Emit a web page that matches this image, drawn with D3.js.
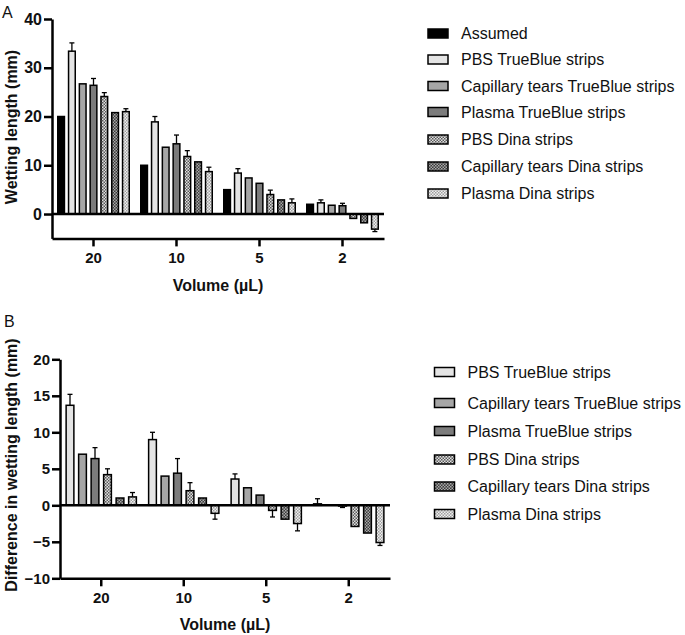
<!DOCTYPE html>
<html>
<head>
<meta charset="utf-8">
<script src="https://cdn.jsdelivr.net/npm/d3@7"></script>
<style>
  html, body { margin: 0; padding: 0; background: #fff; }
  svg { display: block; }
  text { font-family: "Liberation Sans", Arial, Helvetica, sans-serif; fill: #111; }
</style>
</head>
<body>
<svg id="chart" width="685" height="635"></svg>
<script>
// ---------- data ----------
const volumes = ["20", "10", "5", "2"];

const seriesA = ["Assumed", "PBS TrueBlue strips", "Capillary tears TrueBlue strips",
  "Plasma TrueBlue strips", "PBS Dina strips", "Capillary tears Dina strips", "Plasma Dina strips"];
const seriesB = seriesA.slice(1);

// Panel A: wetting length (mm), per volume 20,10,5,2
const assumed        = [20, 10, 5, 2];
const pbsTrueBlue    = [33.4, 18.9, 8.4, 2.3];
const capTrueBlue    = [26.7, 13.7, 7.4, 1.8];
const plasmaTrueBlue = [26.4, 14.4, 6.3, 1.7];
const pbsDina        = [24.1, 11.8, 4.0, -0.9];
const capDina        = [20.8, 10.7, 2.9, -1.8];
const plasmaDina     = [21.0, 8.7, 2.3, -3.1];
// error bars (SD) panel A
const errAssumed       = [0, 0, 0, 0];
const errPbsTrueBlue   = [1.7, 1.1, 0.9, 0.6];
const errCapTrueBlue   = [0, 0, 0, 0];
const errPlasmaTrueBlue= [1.4, 1.8, 0, 0.5];
const errPbsDina       = [0.8, 1.2, 0.9, 0];
const errCapDina       = [0, 0, 0, 0];
const errPlasmaDina    = [0.6, 0.9, 0.8, 0.5];

// Panel B: difference in wetting length (mm)
const dPbsTrueBlue    = [13.7, 9.0, 3.6, 0.2];
const dCapTrueBlue    = [7.0, 4.0, 2.4, 0.0];
const dPlasmaTrueBlue = [6.4, 4.4, 1.4, -0.1];
const dPbsDina        = [4.2, 2.0, -0.7, -2.9];
const dCapDina        = [1.0, 1.0, -1.9, -3.8];
const dPlasmaDina     = [1.15, -1.1, -2.5, -5.1];
const eDPbsTrueBlue   = [1.5, 1.0, 0.7, 0.7];
const eDCapTrueBlue   = [0, 0, 0, 0];
const eDPlasmaTrueBlue= [1.5, 2.0, 0, 0.2];
const eDPbsDina       = [0.8, 1.1, 0.9, 0];
const eDCapDina       = [0, 0, 0, 0];
const eDPlasmaDina    = [0.6, 0.8, 1.0, 0.4];

const ticksA = [0, 10, 20, 30, 40];
const ticksB = [-10, -5, 0, 5, 10, 15, 20];

// ---------- styling ----------
const fills = {
  "Assumed": "#000",
  "PBS TrueBlue strips": "#e4e4e4",
  "Capillary tears TrueBlue strips": "#a6a6a6",
  "Plasma TrueBlue strips": "#7c7c7c",
  "PBS Dina strips": "url(#patPbsDina)",
  "Capillary tears Dina strips": "url(#patCapDina)",
  "Plasma Dina strips": "url(#patPlasmaDina)"
};

const svg = d3.select("#chart");
svg.append("rect").attr("width", 685).attr("height", 635).attr("fill", "#fff");

const defs = svg.append("defs");
function checker(id, bg, fg, s) {
  const p = defs.append("pattern").attr("id", id).attr("patternUnits", "userSpaceOnUse")
    .attr("width", 2 * s).attr("height", 2 * s);
  p.append("rect").attr("width", 2 * s).attr("height", 2 * s).attr("fill", bg);
  p.append("rect").attr("width", s).attr("height", s).attr("fill", fg);
  p.append("rect").attr("x", s).attr("y", s).attr("width", s).attr("height", s).attr("fill", fg);
}
checker("patPbsDina", "#e0e0e0", "#5a5a5a", 1.5);
checker("patCapDina", "#3c3c3c", "#a8a8a8", 1.5);
checker("patPlasmaDina", "#f0f0f0", "#a0a0a0", 1.5);

const seriesDataA = [
  [assumed, errAssumed], [pbsTrueBlue, errPbsTrueBlue], [capTrueBlue, errCapTrueBlue],
  [plasmaTrueBlue, errPlasmaTrueBlue], [pbsDina, errPbsDina], [capDina, errCapDina],
  [plasmaDina, errPlasmaDina]
];
const seriesDataB = [
  [dPbsTrueBlue, eDPbsTrueBlue], [dCapTrueBlue, eDCapTrueBlue], [dPlasmaTrueBlue, eDPlasmaTrueBlue],
  [dPbsDina, eDPbsDina], [dCapDina, eDCapDina], [dPlasmaDina, eDPlasmaDina]
];

function panel(cfg) {
  const g = svg.append("g");
  const x0 = d3.scaleBand().domain(volumes).range(cfg.xRange).padding(0);
  const y = d3.scaleLinear().domain(cfg.yDomain).range(cfg.yRange);
  const n = cfg.series.length;
  const bw = x0.bandwidth();
  const x1 = d3.scaleBand().domain(cfg.series)
    .range([bw / 2 - n * cfg.pitch / 2, bw / 2 + n * cfg.pitch / 2])
    .paddingInner(cfg.pad).paddingOuter(cfg.pad / 2);

  const rows = [];
  cfg.series.forEach((s, si) => {
    volumes.forEach((v, vi) => {
      rows.push({ s, v, val: cfg.data[si][0][vi], err: cfg.data[si][1][vi] });
    });
  });

  // bars
  g.selectAll("rect.bar").data(rows).join("rect").attr("class", "bar")
    .attr("x", d => x0(d.v) + x1(d.s))
    .attr("width", x1.bandwidth())
    .attr("y", d => y(Math.max(0, d.val)))
    .attr("height", d => Math.abs(y(d.val) - y(0)))
    .attr("fill", d => fills[d.s])
    .attr("stroke", "#000").attr("stroke-width", 1.5);

  // error bars
  const eb = rows.filter(d => d.err > 0);
  const cx = d => x0(d.v) + x1(d.s) + x1.bandwidth() / 2;
  const tip = d => d.val >= 0 ? d.val + d.err : d.val - d.err;
  g.selectAll("line.err").data(eb).join("line").attr("class", "err")
    .attr("x1", cx).attr("x2", cx)
    .attr("y1", d => y(d.val)).attr("y2", d => y(tip(d)))
    .attr("stroke", "#000").attr("stroke-width", 1.3);
  g.selectAll("line.cap").data(eb).join("line").attr("class", "cap")
    .attr("x1", d => cx(d) - 2.5).attr("x2", d => cx(d) + 2.5)
    .attr("y1", d => y(tip(d))).attr("y2", d => y(tip(d)))
    .attr("stroke", "#000").attr("stroke-width", 1.3);

  // zero line
  g.append("line").attr("x1", cfg.xRange[0]).attr("x2", cfg.xRange[1])
    .attr("y1", y(0)).attr("y2", y(0)).attr("stroke", "#000").attr("stroke-width", 2.5);

  // y axis
  const ya = g.append("g").attr("transform", `translate(${cfg.xRange[0]},0)`)
    .call(d3.axisLeft(y).tickValues(cfg.ticks).tickSize(8).tickSizeOuter(0).tickPadding(2));
  ya.select(".domain").attr("stroke", "#000").attr("stroke-width", 2.5);
  ya.selectAll(".tick line").attr("stroke", "#000").attr("stroke-width", 2.5);
  ya.selectAll(".tick text").style("font-family", '"Liberation Sans", Arial, sans-serif')
    .style("font-size", cfg.yTickFont + "px").style("font-weight", "bold").attr("fill", "#111");

  // x axis
  const xa = g.append("g").attr("transform", `translate(0,${cfg.yRange[0]})`)
    .call(d3.axisBottom(x0).tickSize(8).tickSizeOuter(0).tickPadding(6));
  xa.select(".domain").attr("stroke", "#000").attr("stroke-width", 2.5);
  xa.selectAll(".tick line").attr("stroke", "#000").attr("stroke-width", 2.5);
  xa.selectAll(".tick text").style("font-family", '"Liberation Sans", Arial, sans-serif')
    .style("font-size", "15px").style("font-weight", "bold").attr("fill", "#111");

  // axis titles
  g.append("text").attr("x", (cfg.xRange[0] + cfg.xRange[1]) / 2).attr("y", cfg.xTitleY)
    .attr("text-anchor", "middle").style("font-size", "16px").style("font-weight", "bold")
    .text("Volume (µL)");
  g.append("text").attr("transform", `translate(${cfg.yTitleX},${cfg.yTitleY}) rotate(-90)`)
    .attr("text-anchor", "middle").style("font-size", "16px").style("font-weight", "bold")
    .text(cfg.yTitle);

  // panel letter
  g.append("text").attr("x", cfg.letterPos[0]).attr("y", cfg.letterPos[1])
    .style("font-size", "16px").text(cfg.letter);

  // legend
  const lg = g.append("g");
  cfg.series.forEach((s, i) => {
    const yy = cfg.legendY[i];
    lg.append("rect").attr("x", cfg.legendX).attr("y", yy - 4.5).attr("width", 20).attr("height", 9)
      .attr("fill", fills[s]).attr("stroke", "#000").attr("stroke-width", 1.5);
    lg.append("text").attr("x", cfg.legendX + 33).attr("y", yy).attr("dy", "0.35em")
      .style("font-size", "16px").attr("fill", "#222").text(s);
  });
}

panel({
  letter: "A", letterPos: [2, 18],
  series: seriesA, data: seriesDataA,
  xRange: [52, 384], yDomain: [-5, 40], yRange: [238.4, 19], ticks: ticksA,
  pitch: 10.8, pad: 0.38, yTickFont: 16,
  xTitleY: 291, yTitleX: 17, yTitleY: 127, yTitle: "Wetting length (mm)",
  legendX: 428, legendY: [33.5, 59.5, 86, 112, 139.5, 166.5, 193.5]
});

panel({
  letter: "B", letterPos: [4, 327],
  series: seriesB, data: seriesDataB,
  xRange: [60, 390], yDomain: [-10, 20], yRange: [578.3, 359.3], ticks: ticksB,
  pitch: 12.5, pad: 0.38, yTickFont: 15,
  xTitleY: 630, yTitleX: 17, yTitleY: 465, yTitle: "Difference in wetting length (mm)",
  legendX: 434.5, legendY: [372, 403, 431, 459.5, 486.5, 514]
});
</script>
</body>
</html>
